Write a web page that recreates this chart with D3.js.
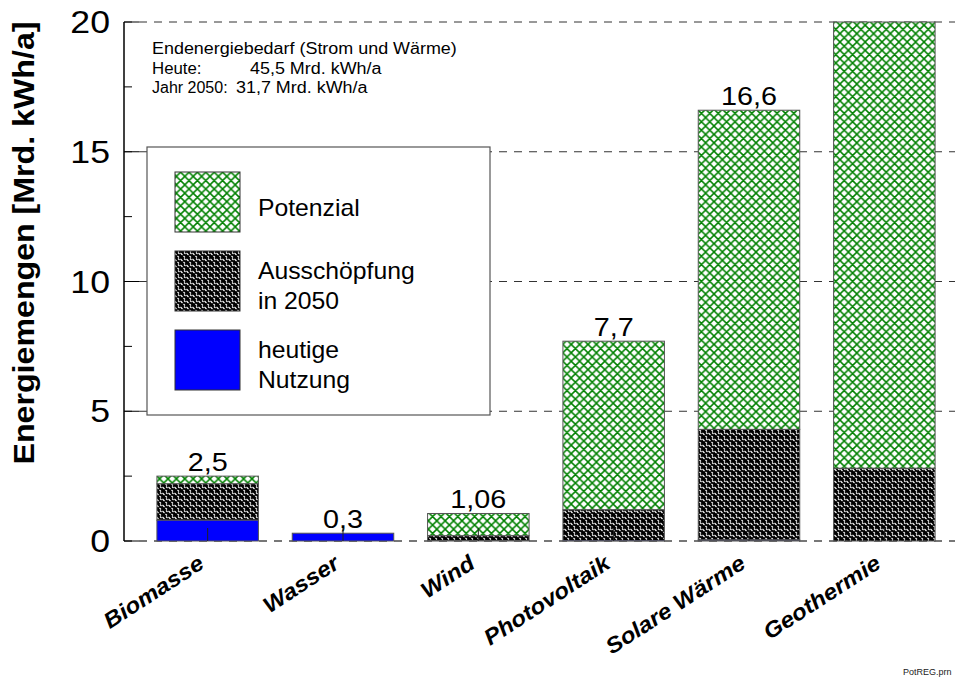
<!DOCTYPE html>
<html>
<head>
<meta charset="utf-8">
<script src="https://cdn.jsdelivr.net/npm/d3@7"></script>
<style>
  body { margin: 0; background: #fff; }
  text { font-family: "Liberation Sans", Arial, sans-serif; }
</style>
</head>
<body>
<svg id="mainsvg" width="965" height="677"></svg>
<script>
// Kategorien und Werte (Mrd. kWh/a)
const categories = ['Biomasse', 'Wasser', 'Wind', 'Photovoltaik', 'Solare Wärme', 'Geothermie']
const heute = [0.8, 0.3, 0.02, 0.01, 0.04, 0]          // heutige Nutzung
const ausschoepfung = [2.2, 0.3, 0.2, 1.2, 4.3, 2.8]   // Ausschöpfung in 2050 (kumuliert)
const potenzial = [2.5, 0.3, 1.06, 7.7, 16.6, 20]      // Potenzial (Geothermie über Achsenende)
const valueLabels = ['2,5', '0,3', '1,06', '7,7', '16,6', '']
const yTicks = [0, 5, 10, 15, 20]
const yMinor = [2.5, 7.5, 12.5, 17.5]
const infoLines = ['Endenergiebedarf (Strom und Wärme)', 'Heute:', 'Jahr 2050:']
const infoValues = ['', '45,5 Mrd. kWh/a', '31,7 Mrd. kWh/a']
const legendItems = [['Potenzial'], ['Ausschöpfung', 'in 2050'], ['heutige', 'Nutzung']]

const svg = d3.select('#mainsvg')
const plotLeft = 124, plotTop = 22, plotBottom = 541

// Schrift im Original etwas breiter als Arial -> Text leicht strecken
function widen(sel, k) {
  sel.each(function () {
    const l = this.getComputedTextLength()
    d3.select(this).attr('textLength', l * k).attr('lengthAdjust', 'spacingAndGlyphs')
  })
}

const x = d3.scaleBand().domain(categories).range([140, 952]).paddingInner(0.25).paddingOuter(0.125)
const y = d3.scaleLinear().domain([0, 20]).range([plotBottom, plotTop])

// Muster
const defs = svg.append('defs')
const pg = defs.append('pattern').attr('id', 'potPat').attr('patternUnits', 'userSpaceOnUse')
  .attr('width', 8.4).attr('height', 8.4)
pg.append('rect').attr('width', 8.4).attr('height', 8.4).attr('fill', 'white')
pg.append('path').attr('d', 'M0,0 L8.4,8.4 M8.4,0 L0,8.4 M-1,1 L1,-1 M7.4,9.4 L9.4,7.4')
  .attr('stroke', '#008000').attr('stroke-width', 1.5).attr('fill', 'none')

const ap = defs.append('pattern').attr('id', 'ausPat').attr('patternUnits', 'userSpaceOnUse')
  .attr('width', 6).attr('height', 6)
ap.append('rect').attr('width', 6).attr('height', 6).attr('fill', 'black')
ap.append('path').attr('d', 'M0.5,1 L2.5,3 M3.5,4 L5,5.5 M4,0.5 L5.5,2')
  .attr('stroke', 'white').attr('stroke-width', 1.1).attr('fill', 'none')

// Gitterlinien
svg.append('g').selectAll('line').data(yTicks).join('line')
  .attr('x1', plotLeft).attr('x2', 955)
  .attr('y1', d => y(d)).attr('y2', d => y(d))
  .attr('stroke', d => d === 0 ? '#777' : '#333')
  .attr('stroke-width', d => d === 0 ? 2 : 1)
  .attr('stroke-dasharray', '8,7')

// Balken
const bars = svg.append('g')
categories.forEach((c, i) => {
  const bx = x(c), bw = x.bandwidth()
  const segs = [
    [ausschoepfung[i], potenzial[i], 'url(#potPat)'],
    [heute[i], ausschoepfung[i], 'url(#ausPat)'],
    [0, heute[i], '#0000ff']
  ]
  segs.forEach(s => {
    if (s[1] - s[0] <= 0) return
    bars.append('rect')
      .attr('x', bx).attr('y', y(s[1]))
      .attr('width', bw).attr('height', y(s[0]) - y(s[1]))
      .attr('fill', s[2]).attr('stroke', '#555').attr('stroke-width', 1)
  })
  if (valueLabels[i]) {
    bars.append('text')
      .attr('x', bx + bw / 2).attr('y', y(potenzial[i]) - 5)
      .attr('text-anchor', 'middle').attr('font-size', 25)
      .text(valueLabels[i])
      .call(widen, 1.15)
  }
})

// x-Ticks innen
svg.append('g').selectAll('line').data(categories).join('line')
  .attr('x1', d => x(d) + x.bandwidth() / 2).attr('x2', d => x(d) + x.bandwidth() / 2)
  .attr('y1', plotBottom).attr('y2', plotBottom - 13)
  .attr('stroke', '#222').attr('stroke-width', 1)

// y-Achse
const ax = svg.append('g')
ax.append('line').attr('x1', plotLeft).attr('x2', plotLeft).attr('y1', plotTop).attr('y2', plotBottom)
  .attr('stroke', 'black').attr('stroke-width', 1.5)
ax.selectAll('.maj').data(yTicks).join('line').attr('class', 'maj')
  .attr('x1', plotLeft).attr('x2', plotLeft + 15).attr('y1', d => y(d)).attr('y2', d => y(d))
  .attr('stroke', 'black')
ax.selectAll('.min').data(yMinor).join('line').attr('class', 'min')
  .attr('x1', plotLeft).attr('x2', plotLeft + 8).attr('y1', d => y(d)).attr('y2', d => y(d))
  .attr('stroke', 'black')
ax.selectAll('text').data(yTicks).join('text')
  .attr('x', 110).attr('y', d => y(d) + 11)
  .attr('text-anchor', 'end').attr('font-size', 31)
  .text(d => d)
  .call(widen, 1.15)

svg.append('text')
  .attr('transform', 'translate(34,243) rotate(-90)')
  .attr('text-anchor', 'middle').attr('font-size', 29).attr('font-weight', 'bold')
  .attr('textLength', 443).attr('lengthAdjust', 'spacingAndGlyphs')
  .text('Energiemengen [Mrd. kWh/a]')

// x-Beschriftung
svg.append('g').selectAll('text').data(categories).join('text')
  .attr('transform', d => `translate(${x(d) + x.bandwidth() / 2 - 2},567) rotate(-33)`)
  .attr('text-anchor', 'end').attr('font-size', 22)
  .attr('font-weight', 'bold').attr('font-style', 'italic')
  .text(d => d)
  .call(widen, 1.1)

// Info-Text
const info = svg.append('g')
info.append('text').attr('x', 152).attr('y', 54).attr('font-size', 16).text(infoLines[0]).call(widen, 1.12)
info.append('text').attr('x', 152).attr('y', 73.5).attr('font-size', 16).text(infoLines[1]).call(widen, 1.05)
info.append('text').attr('x', 152).attr('y', 93).attr('font-size', 16).text(infoLines[2])
info.append('text').attr('x', 250).attr('y', 73.5).attr('font-size', 16).text(infoValues[1]).call(widen, 1.12)
info.append('text').attr('x', 236).attr('y', 93).attr('font-size', 16).text(infoValues[2]).call(widen, 1.12)

// Legende
const lg = svg.append('g')
lg.append('rect').attr('x', 147).attr('y', 147).attr('width', 343).attr('height', 268)
  .attr('fill', 'white').attr('stroke', '#555').attr('stroke-width', 1.2)
const swatchY = [172, 251, 330]
const swatchFill = ['url(#potPat)', 'url(#ausPat)', '#0000ff']
legendItems.forEach((lines, i) => {
  lg.append('rect').attr('x', 175).attr('y', swatchY[i]).attr('width', 65).attr('height', 60)
    .attr('fill', swatchFill[i]).attr('stroke', '#333')
  const ty = lines.length === 1 ? swatchY[i] + 44 : swatchY[i] + 28
  lines.forEach((t, j) => {
    lg.append('text').attr('x', 258).attr('y', ty + j * 30).attr('font-size', 24).text(t)
      .call(widen, 1.03)
  })
})

svg.append('text').attr('x', 903).attr('y', 675).attr('font-size', 9).attr('fill', '#222').text('PotREG.prn')
</script>
</body>
</html>
